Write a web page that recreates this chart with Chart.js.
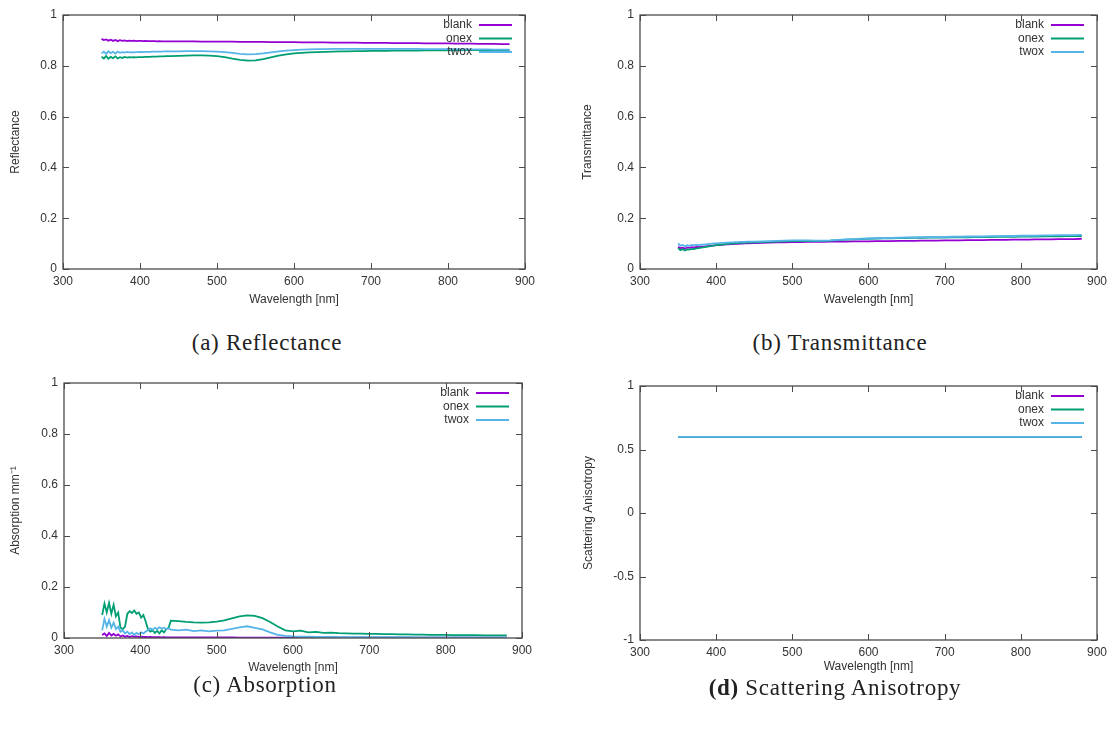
<!DOCTYPE html>
<html lang="en">
<head>
<meta charset="UTF-8">
<title>Optical properties vs wavelength</title>
<script src="https://cdn.jsdelivr.net/npm/chart.js"></script>
<style>
  body { margin: 0; background: #fff; width: 1112px; height: 729px; position: relative; overflow: hidden; }
  .panel { position: absolute; width: 556px; height: 320px; }
  .caption { position: absolute; width: 556px; text-align: center; font-family: "Liberation Serif", "Times New Roman", serif; font-size: 23px; letter-spacing: 0.7px; color: #222; line-height: 26px; }
</style>
</head>
<body>
<div class="panel" style="left:0;top:0"><canvas id="reflChart" width="556" height="320"></canvas></div>
<div class="panel" style="left:556px;top:0"><canvas id="transChart" width="556" height="320"></canvas></div>
<div class="panel" style="left:0;top:360px"><canvas id="absChart" width="556" height="320"></canvas></div>
<div class="panel" style="left:556px;top:360px"><canvas id="anisoChart" width="556" height="320"></canvas></div>

<div class="caption" style="left:-11px;top:330px">(a) Reflectance</div>
<div class="caption" style="left:562px;top:330px">(b) Transmittance</div>
<div class="caption" style="left:-13px;top:672px">(c) Absorption</div>
<div class="caption" style="left:557px;top:675px"><b>(d)</b> Scattering Anisotropy</div>

<script>
// wavelength grid [nm], finer in the noisy UV end
const wavelength = [
  350, 353, 356, 359, 362, 365, 368, 371, 374, 377, 380, 383, 386, 389, 392, 395,
  398, 401, 404, 407, 410, 413, 416, 419, 422, 425, 428, 431, 434, 437, 440,
  450, 460, 470, 480, 490, 500, 510, 520, 530, 540, 550, 560, 570, 580, 590, 600,
  610, 620, 630, 640, 650, 660, 670, 680, 690, 700, 710, 720, 730, 740, 750, 760,
  770, 780, 790, 800, 810, 820, 830, 840, 850, 860, 870, 880
];

// reflectance
const reflBlank = [
  0.906, 0.901, 0.904, 0.899, 0.903, 0.898, 0.902, 0.897, 0.901, 0.898, 0.900, 0.897, 0.899, 0.898, 0.899, 0.897,
  0.898, 0.898, 0.897, 0.898, 0.897, 0.897, 0.897, 0.897, 0.896, 0.897, 0.896, 0.896, 0.896, 0.896, 0.896,
  0.896, 0.896, 0.896, 0.895, 0.895, 0.895, 0.895, 0.895, 0.894, 0.894, 0.894, 0.894, 0.893, 0.893, 0.893, 0.893,
  0.892, 0.892, 0.892, 0.892, 0.891, 0.891, 0.891, 0.891, 0.890, 0.890, 0.890, 0.890, 0.889, 0.889, 0.889, 0.889,
  0.888, 0.888, 0.888, 0.888, 0.887, 0.887, 0.887, 0.886, 0.886, 0.886, 0.885, 0.885
];
const reflOnex = [
  0.836, 0.829, 0.838, 0.828, 0.835, 0.830, 0.837, 0.829, 0.834, 0.831, 0.835, 0.832, 0.834, 0.833, 0.834, 0.833,
  0.834, 0.834, 0.834, 0.835, 0.835, 0.835, 0.836, 0.836, 0.836, 0.837, 0.837, 0.837, 0.838, 0.838, 0.838,
  0.839, 0.840, 0.841, 0.841, 0.840, 0.838, 0.834, 0.828, 0.823, 0.820, 0.821, 0.826, 0.833, 0.840, 0.845, 0.849,
  0.851, 0.853, 0.854, 0.855, 0.856, 0.857, 0.857, 0.858, 0.858, 0.859, 0.859, 0.859, 0.860, 0.860, 0.860, 0.860,
  0.861, 0.861, 0.861, 0.861, 0.861, 0.862, 0.862, 0.862, 0.862, 0.862, 0.862, 0.862
];
const reflTwox = [
  0.849, 0.856, 0.847, 0.857, 0.850, 0.855, 0.848, 0.856, 0.851, 0.854, 0.852, 0.855, 0.853, 0.854, 0.853, 0.854,
  0.854, 0.855, 0.854, 0.855, 0.855, 0.855, 0.856, 0.856, 0.856, 0.856, 0.856, 0.857, 0.857, 0.857, 0.857,
  0.857, 0.858, 0.858, 0.858, 0.857, 0.856, 0.854, 0.851, 0.847, 0.845, 0.846, 0.849, 0.853, 0.857, 0.860, 0.862,
  0.864, 0.865, 0.866, 0.866, 0.867, 0.867, 0.867, 0.867, 0.867, 0.867, 0.867, 0.867, 0.867, 0.867, 0.867, 0.867,
  0.866, 0.866, 0.866, 0.866, 0.866, 0.865, 0.865, 0.865, 0.865, 0.864, 0.864, 0.864
];

// transmittance
const transBlank = [
  0.088, 0.082, 0.084, 0.080, 0.085, 0.083, 0.086, 0.084, 0.087, 0.086, 0.088, 0.088, 0.089, 0.090, 0.091, 0.092,
  0.093, 0.094, 0.095, 0.095, 0.096, 0.097, 0.097, 0.098, 0.098, 0.099, 0.099, 0.100, 0.100, 0.101, 0.101,
  0.102, 0.103, 0.104, 0.105, 0.105, 0.106, 0.106, 0.107, 0.107, 0.107, 0.108, 0.108, 0.108, 0.109, 0.109, 0.109,
  0.110, 0.110, 0.110, 0.111, 0.111, 0.111, 0.112, 0.112, 0.112, 0.113, 0.113, 0.113, 0.114, 0.114, 0.114, 0.115,
  0.115, 0.115, 0.116, 0.116, 0.116, 0.117, 0.117, 0.117, 0.118, 0.118, 0.118, 0.119
];
const transOnex = [
  0.082, 0.074, 0.078, 0.073, 0.077, 0.076, 0.079, 0.078, 0.081, 0.082, 0.084, 0.085, 0.087, 0.088, 0.090, 0.091,
  0.093, 0.094, 0.095, 0.096, 0.097, 0.098, 0.099, 0.100, 0.101, 0.101, 0.102, 0.103, 0.103, 0.104, 0.104,
  0.105, 0.106, 0.107, 0.108, 0.109, 0.110, 0.110, 0.110, 0.110, 0.111, 0.112, 0.114, 0.116, 0.117, 0.118, 0.119,
  0.120, 0.121, 0.121, 0.122, 0.122, 0.123, 0.123, 0.124, 0.124, 0.124, 0.125, 0.125, 0.125, 0.126, 0.126, 0.126,
  0.127, 0.127, 0.127, 0.128, 0.128, 0.128, 0.129, 0.129, 0.129, 0.130, 0.130, 0.130
];
const transTwox = [
  0.101, 0.092, 0.095, 0.089, 0.094, 0.091, 0.095, 0.093, 0.095, 0.094, 0.096, 0.096, 0.097, 0.098, 0.099, 0.100,
  0.101, 0.101, 0.102, 0.103, 0.103, 0.104, 0.104, 0.105, 0.105, 0.106, 0.106, 0.107, 0.107, 0.107, 0.108,
  0.108, 0.109, 0.110, 0.111, 0.112, 0.113, 0.113, 0.113, 0.112, 0.112, 0.113, 0.115, 0.117, 0.118, 0.119, 0.120,
  0.121, 0.122, 0.122, 0.123, 0.124, 0.124, 0.125, 0.125, 0.126, 0.126, 0.127, 0.127, 0.128, 0.128, 0.128, 0.129,
  0.129, 0.130, 0.130, 0.131, 0.131, 0.131, 0.132, 0.132, 0.133, 0.133, 0.133, 0.134
];

// absorption coefficient [1/mm]
const absBlank = [
  0.012, 0.018, 0.008, 0.020, 0.010, 0.016, 0.009, 0.014, 0.006, 0.010, 0.005, 0.008, 0.004, 0.007, 0.005, 0.006,
  0.004, 0.005, 0.004, 0.004, 0.003, 0.004, 0.003, 0.003, 0.003, 0.003, 0.002, 0.003, 0.002, 0.002, 0.002,
  0.002, 0.002, 0.002, 0.002, 0.002, 0.002, 0.002, 0.002, 0.001, 0.001, 0.001, 0.001, 0.001, 0.001, 0.001, 0.001,
  0.001, 0.001, 0.001, 0.001, 0.001, 0.001, 0.001, 0.001, 0.001, 0.001, 0.001, 0.001, 0.001, 0.001, 0.001, 0.001,
  0.001, 0.001, 0.001, 0.001, 0.001, 0.001, 0.001, 0.001, 0.001, 0.001, 0.001, 0.001
];
const absOnex = [
  0.090, 0.135, 0.100, 0.138, 0.095, 0.130, 0.085, 0.100, 0.040, 0.035, 0.045, 0.095, 0.105, 0.098, 0.108, 0.095,
  0.100, 0.080, 0.090, 0.065, 0.035, 0.025, 0.030, 0.020, 0.028, 0.018, 0.030, 0.022, 0.035, 0.040, 0.068,
  0.066, 0.063, 0.061, 0.060, 0.061, 0.064, 0.069, 0.077, 0.085, 0.089, 0.087, 0.078, 0.063, 0.045, 0.030, 0.026,
  0.029, 0.022, 0.024, 0.020, 0.021, 0.019, 0.018, 0.017, 0.017, 0.016, 0.016, 0.015, 0.015, 0.014, 0.014, 0.013,
  0.013, 0.012, 0.012, 0.012, 0.011, 0.011, 0.011, 0.011, 0.010, 0.010, 0.010, 0.010
];
const absTwox = [
  0.030, 0.075, 0.045, 0.070, 0.040, 0.060, 0.035, 0.045, 0.025, 0.030, 0.018, 0.025, 0.015, 0.022, 0.012, 0.020,
  0.015, 0.022, 0.018, 0.025, 0.030, 0.038, 0.032, 0.040, 0.035, 0.042, 0.036, 0.040, 0.034, 0.038, 0.033,
  0.030, 0.033, 0.027, 0.030, 0.026, 0.029, 0.030, 0.036, 0.042, 0.046, 0.040, 0.034, 0.022, 0.012, 0.008, 0.006,
  0.005, 0.005, 0.004, 0.004, 0.004, 0.003, 0.003, 0.003, 0.003, 0.003, 0.003, 0.003, 0.003, 0.003, 0.003, 0.002,
  0.002, 0.002, 0.002, 0.002, 0.002, 0.002, 0.002, 0.002, 0.002, 0.002, 0.002, 0.002
];

// scattering anisotropy g (constant)
const anisoWavelength = [350, 400, 450, 500, 550, 600, 650, 700, 750, 800, 850, 880];
const anisoBlank = [0.6, 0.6, 0.6, 0.6, 0.6, 0.6, 0.6, 0.6, 0.6, 0.6, 0.6, 0.6];
const anisoOnex  = [0.6, 0.6, 0.6, 0.6, 0.6, 0.6, 0.6, 0.6, 0.6, 0.6, 0.6, 0.6];
const anisoTwox  = [0.6, 0.6, 0.6, 0.6, 0.6, 0.6, 0.6, 0.6, 0.6, 0.6, 0.6, 0.6];

const xTicks = [300, 400, 500, 600, 700, 800, 900];
const seriesNames = ['blank', 'onex', 'twox'];
const seriesColors = ['#9400d3', '#009e73', '#56b4e9'];

const FONT = '"Liberation Sans", Arial, sans-serif';
const INK = '#333';

// gnuplot-style frame: full border with inward ticks on all four sides
const framePlugin = {
  id: 'frame',
  afterDatasetsDraw(chart) {
    const { ctx, chartArea: a, scales } = chart;
    ctx.save();
    ctx.strokeStyle = '#4a4a4a';
    ctx.lineWidth = 1.3;
    ctx.strokeRect(a.left, a.top, a.right - a.left, a.bottom - a.top);
    ctx.lineWidth = 1;
    ctx.beginPath();
    scales.x.ticks.forEach(t => {
      const px = Math.round(scales.x.getPixelForValue(t.value)) + 0.5;
      ctx.moveTo(px, a.bottom); ctx.lineTo(px, a.bottom - 6);
      ctx.moveTo(px, a.top); ctx.lineTo(px, a.top + 6);
    });
    scales.y.ticks.forEach(t => {
      const py = Math.round(scales.y.getPixelForValue(t.value)) + 0.5;
      ctx.moveTo(a.left, py); ctx.lineTo(a.left + 6, py);
      ctx.moveTo(a.right, py); ctx.lineTo(a.right - 6, py);
    });
    ctx.stroke();
    ctx.restore();
  }
};

// key in the top-right corner: label, then a line sample
const keyPlugin = {
  id: 'key',
  afterDraw(chart) {
    const { ctx, chartArea: a } = chart;
    ctx.save();
    ctx.font = '12px ' + FONT;
    ctx.textAlign = 'right';
    ctx.textBaseline = 'middle';
    chart.data.datasets.forEach((ds, i) => {
      const y = a.top + 10 + i * 13.5;
      ctx.fillStyle = INK;
      ctx.fillText(ds.label, a.right - 53, y);
      ctx.strokeStyle = ds.borderColor;
      ctx.lineWidth = 2;
      ctx.beginPath();
      ctx.moveTo(a.right - 46, y);
      ctx.lineTo(a.right - 13, y);
      ctx.stroke();
    });
    ctx.restore();
  }
};

function toPoints(xs, ys) {
  return xs.map((x, i) => ({ x, y: ys[i] }));
}

// plain numbers like gnuplot: 1, 0.8, -0.5
const plainTick = v => String(Number(v.toFixed(2)));

function drawPanel(id, opt) {
  const datasets = opt.series.map((ys, i) => ({
    label: seriesNames[i],
    data: toPoints(opt.xs, ys),
    borderColor: seriesColors[i],
    borderWidth: 1.8,
    pointRadius: 0,
    tension: 0,
    order: 3 - i
  }));

  new Chart(document.getElementById(id), {
    type: 'line',
    data: { datasets },
    options: {
      responsive: false,
      animation: false,
      events: [],
      layout: { padding: { top: opt.top, right: opt.right, left: 0, bottom: 0 } },
      plugins: { legend: { display: false }, tooltip: { enabled: false } },
      scales: {
        x: {
          type: 'linear',
          min: 300, max: 900,
          afterBuildTicks: s => { s.ticks = xTicks.map(v => ({ value: v })); },
          afterFit: s => { s.height = opt.xHeight; },
          grid: { display: false, drawTicks: false },
          border: { display: false },
          ticks: { padding: 5, color: INK, font: { family: FONT, size: 12 }, callback: plainTick },
          title: {
            display: true, text: 'Wavelength [nm]', color: INK,
            font: { family: FONT, size: 12 }, padding: { top: 0, bottom: opt.xTitlePad }
          }
        },
        y: {
          min: opt.yMin, max: opt.yMax,
          ticks: { stepSize: opt.yStep, padding: 6, color: INK, font: { family: FONT, size: 12 }, callback: plainTick },
          afterFit: s => { s.width = opt.yWidth; },
          grid: { display: false, drawTicks: false },
          border: { display: false },
          title: {
            display: true, text: opt.yTitle, color: INK,
            font: { family: FONT, size: 12 }, padding: { top: opt.yTitlePad, bottom: 0 }
          }
        }
      }
    },
    plugins: [framePlugin, keyPlugin]
  });
}

drawPanel('reflChart', {
  xs: wavelength, series: [reflBlank, reflOnex, reflTwox],
  yTitle: 'Reflectance', yMin: 0, yMax: 1, yStep: 0.2,
  top: 15, right: 31, yWidth: 63, xHeight: 51, xTitlePad: 13, yTitlePad: 8
});

drawPanel('transChart', {
  xs: wavelength, series: [transBlank, transOnex, transTwox],
  yTitle: 'Transmittance', yMin: 0, yMax: 1, yStep: 0.2,
  top: 15, right: 14, yWidth: 84, xHeight: 51, xTitlePad: 13, yTitlePad: 24
});

drawPanel('absChart', {
  xs: wavelength, series: [absBlank, absOnex, absTwox],
  yTitle: 'Absorption mm⁻¹', yMin: 0, yMax: 1, yStep: 0.2,
  top: 23, right: 34, yWidth: 64, xHeight: 42, xTitlePad: 5, yTitlePad: 8
});

drawPanel('anisoChart', {
  xs: anisoWavelength, series: [anisoBlank, anisoOnex, anisoTwox],
  yTitle: 'Scattering Anisotropy', yMin: -1, yMax: 1, yStep: 0.5,
  top: 26, right: 14, yWidth: 84, xHeight: 40, xTitlePad: 6, yTitlePad: 25
});
</script>
</body>
</html>
